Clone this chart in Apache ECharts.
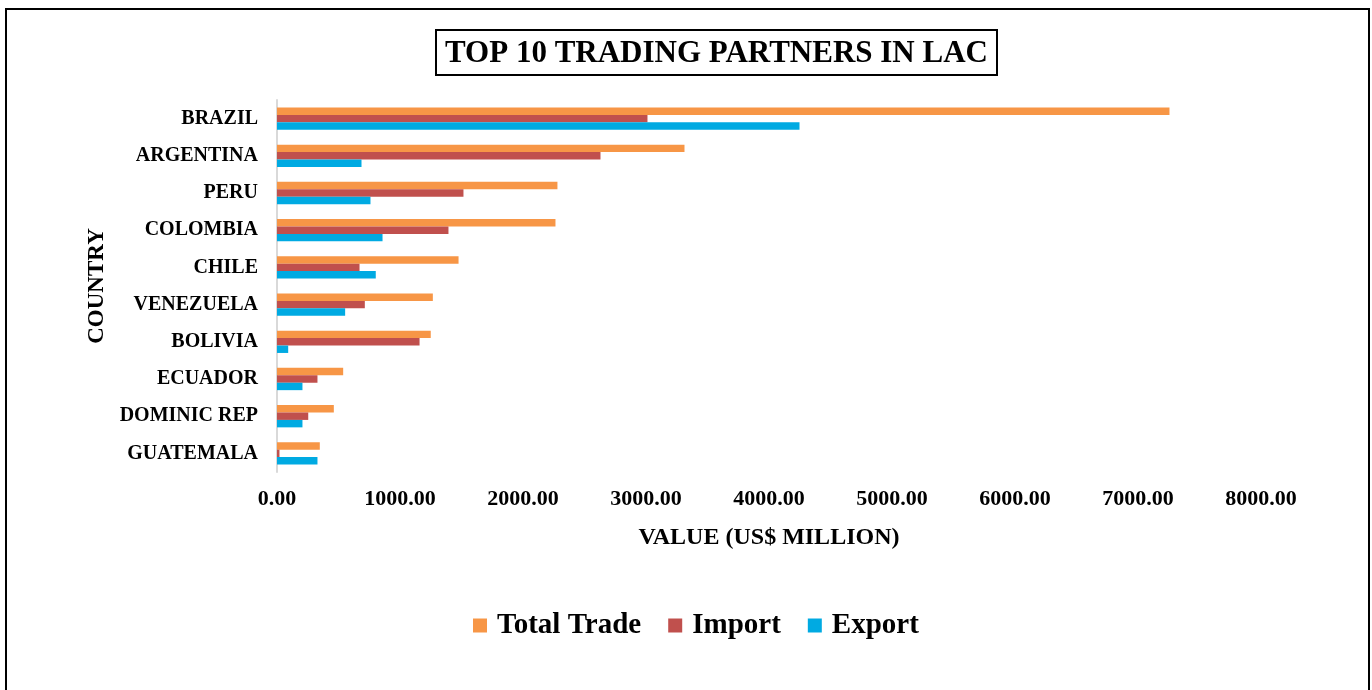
<!DOCTYPE html>
<html>
<head>
<meta charset="utf-8">
<script src="https://cdn.jsdelivr.net/npm/echarts@6/dist/echarts.min.js"></script>
<style>
html,body{margin:0;padding:0;background:#fff;}
#chart{width:1372px;height:690px;}
</style>
</head>
<body>
<div id="chart"></div>
<script>
const countries = ['BRAZIL','ARGENTINA','PERU','COLOMBIA','CHILE','VENEZUELA','BOLIVIA','ECUADOR','DOMINIC REP','GUATEMALA'];
const totalTrade = [7256, 3313, 2280, 2264, 1476, 1267, 1250, 538, 462, 348];
const importVals = [3012, 2630, 1516, 1394, 671, 714, 1159, 329, 254, 20];
const exportVals = [4248, 687, 760, 858, 803, 554, 91, 207, 207, 329];
const xTicks = [0, 1000, 2000, 3000, 4000, 5000, 6000, 7000, 8000];

const FONT = '"Liberation Serif", "Times New Roman", serif';
const chart = echarts.init(document.getElementById('chart'));
chart.setOption({
  animation: false,
  backgroundColor: '#fff',
  title: {
    text: 'TOP 10 TRADING PARTNERS IN LAC',
    left: 436, top: 30,
    padding: [8, 9, 6, 9],
    borderColor: '#000', borderWidth: 2,
    textStyle: {fontFamily: FONT, fontWeight: 'bold', fontSize: 31, color: '#000'}
  },
  graphic: [{
    type: 'rect', silent: true,
    shape: {x: 6, y: 9, width: 1363, height: 700},
    style: {fill: 'none', stroke: '#000', lineWidth: 2}
  }],
  legend: {
    data: ['Total Trade', 'Import', 'Export'],
    left: 468, top: 606,
    icon: 'rect', itemWidth: 14, itemHeight: 14, itemGap: 27,
    textStyle: {fontFamily: FONT, fontWeight: 'bold', fontSize: 29, color: '#000', padding: [0, 0, 0, 5]}
  },
  grid: {left: 277, right: 111, top: 100, height: 372, containLabel: false},
  xAxis: {
    type: 'value', min: xTicks[0], max: xTicks[xTicks.length - 1], interval: 1000,
    name: 'VALUE (US$ MILLION)', nameLocation: 'middle', nameGap: 54,
    nameTextStyle: {fontFamily: FONT, fontWeight: 'bold', fontSize: 24, color: '#000'},
    axisLine: {show: false}, axisTick: {show: false}, splitLine: {show: false},
    axisLabel: {fontFamily: FONT, fontWeight: 'bold', fontSize: 22, color: '#000', margin: 16,
      formatter: v => v.toFixed(2)}
  },
  yAxis: {
    type: 'category', data: countries, inverse: true,
    name: 'COUNTRY', nameLocation: 'middle', nameGap: 168,
    nameTextStyle: {fontFamily: FONT, fontWeight: 'bold', fontSize: 23, color: '#000'},
    axisLine: {show: true, lineStyle: {color: '#d9d9d9', width: 2}},
    axisTick: {show: false},
    axisLabel: {fontFamily: FONT, fontWeight: 'bold', fontSize: 20, color: '#000', margin: 19}
  },
  series: [
    {name: 'Total Trade', type: 'bar', data: totalTrade, itemStyle: {color: '#F79646'}, barGap: '0%', barCategoryGap: '40%'},
    {name: 'Import', type: 'bar', data: importVals, itemStyle: {color: '#C0504D'}, barGap: '0%', barCategoryGap: '40%'},
    {name: 'Export', type: 'bar', data: exportVals, itemStyle: {color: '#00AAE2'}, barGap: '0%', barCategoryGap: '40%'}
  ]
});
</script>
</body>
</html>
